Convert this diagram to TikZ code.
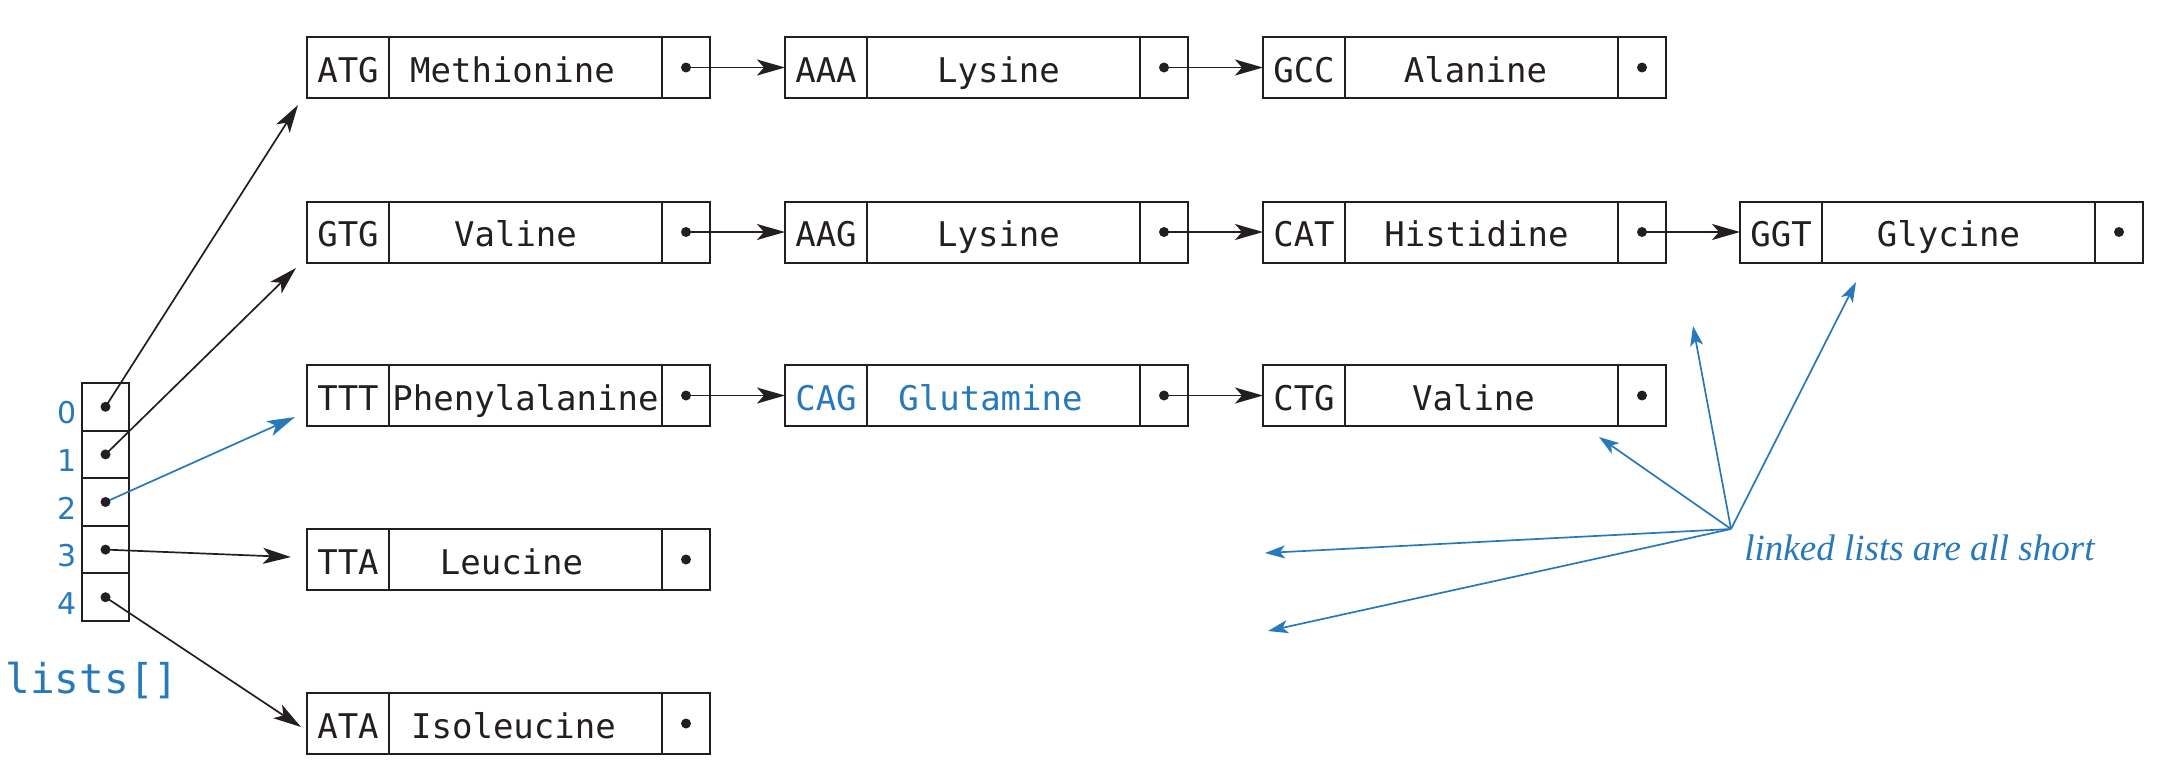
\documentclass[tikz,border=0pt]{standalone}
\usepackage{fontspec}
\usetikzlibrary{arrows.meta}
\newfontfamily\boxfontfam{DejaVu Sans Mono}
\newfontfamily\labfontfam{DejaVu Sans}
\newfontfamily\notefontfam{Liberation Serif}
\definecolor{ink}{RGB}{35,31,32}
\definecolor{hiblue}{RGB}{39,121,187}
\newcommand\boxfont{\boxfontfam\fontsize{17pt}{20pt}\selectfont}
\newcommand\idxfont{\labfontfam\fontsize{15pt}{17pt}\selectfont}
\newcommand\arrfont{\boxfontfam\fontsize{20.5pt}{24pt}\selectfont}
\newcommand\notefont{\notefontfam\itshape\fontsize{18.5pt}{22pt}\selectfont}
\tikzset{
  cell/.style={draw=ink, line width=1pt, minimum height=30.5pt, inner sep=0pt, outer sep=0pt,
    font=\boxfont, text height=17pt, text depth=2.5pt},
  codecell/.style={cell, minimum width=41pt},
  namecell/.style={cell, minimum width=136.5pt},
  ptrcell/.style={cell, minimum width=24pt},
  nametext/.style={inner sep=0pt, font=\boxfont, text height=17pt, text depth=2.5pt},
  arrcell/.style={draw=ink, line width=1pt, minimum width=23.5pt, minimum height=23.8pt, inner sep=0pt, outer sep=0pt},
  idx/.style={font=\idxfont, text=hiblue, anchor=base, inner sep=0pt},
  arr/.style={draw=ink, line width=0.85pt, -{Stealth[length=14pt,width=8pt,inset=3.5pt]}},
  barr/.style={arr, draw=hiblue, -{Stealth[length=14pt,width=8pt,inset=3.5pt,fill=hiblue]}},
  narr/.style={draw=hiblue, line width=0.85pt, -{Stealth[length=10pt,width=6.5pt,inset=2.5pt,fill=hiblue]}},
}
\newcommand\lentry[7]{%
  \node[codecell, text=#6, anchor=west] (#1c) at (#2,#3) {#4};
  \node[namecell, anchor=west] (#1n) at (#1c.east) {};
  \node[nametext, text=#6] (#1t) at ([xshift=#7]#1n.center) {#5};
  \node[ptrcell, anchor=west] (#1p) at (#1n.east) {};
  \fill[ink] (#1p.center) circle (2.5pt);
}
\begin{document}
\begin{tikzpicture}[x=0.5pt,y=-0.5pt]
\useasboundingbox (0,0) rectangle (2168,776);
% lists
\lentry{A1}{307}{67.5}{ATG}{Methionine}{ink}{-6.5pt}
\lentry{A2}{785}{67.5}{AAA}{Lysine}{ink}{-2.5pt}
\lentry{A3}{1263}{67.5}{GCC}{Alanine}{ink}{-3pt}
\lentry{B1}{307}{232}{GTG}{Valine}{ink}{-5pt}
\lentry{B2}{785}{232}{AAG}{Lysine}{ink}{-2.5pt}
\lentry{B3}{1263}{232}{CAT}{Histidine}{ink}{-2.5pt}
\lentry{B4}{1740}{232}{GGT}{Glycine}{ink}{-5pt}
\lentry{C1}{307}{395.5}{TTT}{Phenylalanine}{ink}{0pt}
\lentry{C2}{785}{395.5}{CAG}{Glutamine}{hiblue}{-6.5pt}
\lentry{C3}{1263}{395.5}{CTG}{Valine}{ink}{-4pt}
\lentry{D1}{307}{559.5}{TTA}{Leucine}{ink}{-7pt}
\lentry{E1}{307}{723.5}{ATA}{Isoleucine}{ink}{-6pt}
% links
\draw[arr] (A1p.center) -- (A2c.west);
\draw[arr] (A2p.center) -- (A3c.west);
\draw[arr] (B1p.center) -- (B2c.west);
\draw[arr] (B2p.center) -- (B3c.west);
\draw[arr] (B3p.center) -- (B4c.west);
\draw[arr] (C1p.center) -- (C2c.west);
\draw[arr] (C2p.center) -- (C3c.west);
% array
\foreach \i/\y in {0/406.8,1/454.4,2/502,3/549.6,4/597.2}{
  \node[arrcell] (a\i) at (105.5,\y) {};
  \node[idx] (l\i) at (67,\y+17) {\i};
}
\node[font=\arrfont, text=hiblue, anchor=base, inner sep=0pt] (lists) at (92,693) {lists[]};
\coordinate (t0) at (298,105);
\coordinate (t1) at (296,268);
\coordinate (t2) at (295,417);
\coordinate (t3) at (291,557);
\coordinate (t4) at (301,727);
\draw[arr] (a0.center) -- (t0);
\draw[arr] (a1.center) -- (t1);
\draw[barr] (a2.center) -- (t2);
\draw[arr] (a3.center) -- (t3);
\draw[arr] (a4.center) -- (t4);
\foreach \i in {0,...,4}{\fill[ink] (a\i.center) circle (2.5pt);}
% note
\node[font=\notefont, text=hiblue, anchor=base west, inner sep=0pt] (note) at (1744,560) {linked lists are all short};
\coordinate (o) at (1731,529);
\coordinate (n1) at (1856,282);
\coordinate (n2) at (1693,326);
\coordinate (n3) at (1599,437);
\coordinate (n4) at (1265,553);
\coordinate (n5) at (1268,631);
\foreach \k in {1,...,5}{\draw[narr] (o) -- (n\k);}
\end{tikzpicture}
\end{document}
